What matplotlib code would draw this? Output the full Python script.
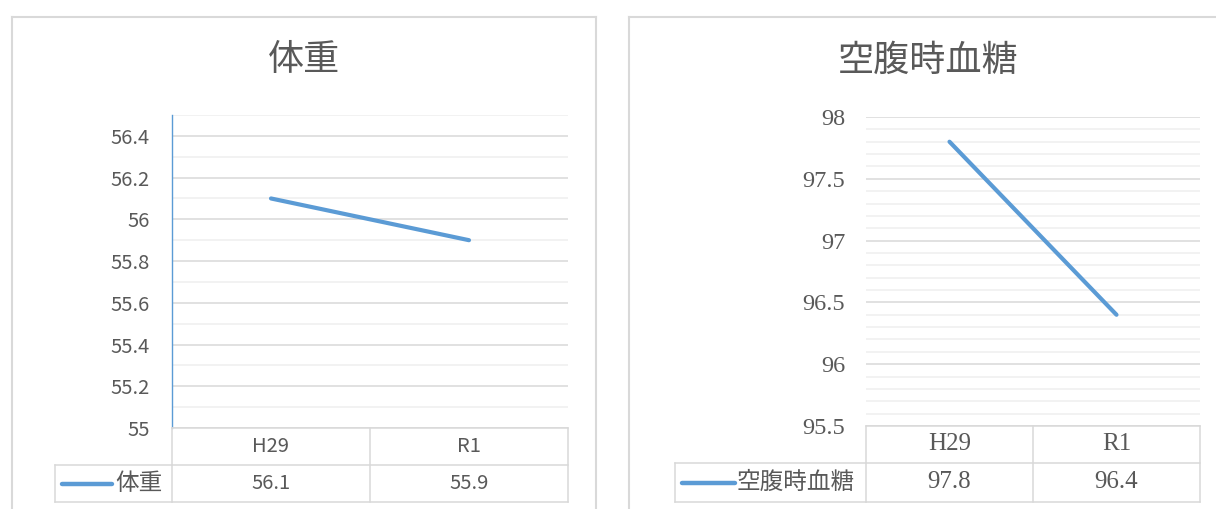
import matplotlib.pyplot as plt
import matplotlib.transforms as mtransforms
from matplotlib.lines import Line2D
import numpy as np

# data
periods = ["H29", "R1"]
weight = [56.1, 55.9]
glucose = [97.8, 96.4]
titles = ["体重", "空腹時血糖"]

W, H = 1216, 509
BLUE = "#5B9BD5"
TXT = "#595959"
GRID = "#D9D9D9"
MINOR = "#EFEFEF"
SANS = ["Noto Sans CJK JP", "DejaVu Sans"]
SERIF = ["Liberation Serif", "Noto Sans CJK JP"]

fig = plt.figure(figsize=(W / 100, H / 100), dpi=100)


def fx(x):
    return x / W


def fy(y):
    return 1 - y / H


def fline(x0, y0, x1, y1, tr=None, **kw):
    tr = tr or fig.transFigure
    if tr is fig.transFigure:
        xs, ys = [fx(x0), fx(x1)], [fy(y0), fy(y1)]
    else:
        xs, ys = [x0, x1], [fy(y0), fy(y1)]
    fig.add_artist(Line2D(xs, ys, transform=tr, **kw))


def chart(title, values, frame, title_xy, box, ylim, major, minor, rows,
          leg, family, fs_tick, fs_tab, fs_leg, axis_line, pad):
    fl, ft, fr = frame
    # outer chart border
    fline(fl, 510, fl, ft, color=GRID, lw=1.5)
    fline(fl, ft, fr, ft, color=GRID, lw=1.5)
    fline(fr, ft, fr, 510, color=GRID, lw=1.5)

    fig.text(fx(title_xy[0]), fy(title_xy[1]), title, ha="center", va="center",
             fontsize=26, color=TXT, family=family)

    x0, y0, x1, y1 = box
    ax = fig.add_axes([fx(x0), fy(y1), fx(x1 - x0), (y1 - y0) / H])
    ax.plot(range(len(periods)), values, color=BLUE, lw=3,
            solid_capstyle="round", zorder=3)
    ax.set_xlim(-0.5, len(periods) - 0.5)
    ax.set_ylim(*ylim)
    ax.set_yticks(major)
    ax.set_yticks(minor, minor=True)
    ax.set_yticklabels([f"{v:g}" for v in major], family=family,
                       fontsize=fs_tick, color=TXT)
    ax.set_xticks([])
    ax.tick_params(axis="y", which="both", length=0, pad=pad)
    ax.grid(axis="y", which="major", color=GRID, lw=1.1)
    ax.grid(axis="y", which="minor", color=MINOR, lw=1.1)
    for s in ax.spines.values():
        s.set_visible(False)
    if axis_line:
        ax.spines["left"].set_visible(True)
        ax.spines["left"].set_color(BLUE)
        ax.spines["left"].set_linewidth(1)

    # data table below the plot
    r0, r1, r2 = rows
    tr = mtransforms.blended_transform_factory(ax.transData, fig.transFigure)
    lo, hi = -0.5, len(periods) - 0.5
    fline(lo, r0, hi, r0, tr=tr, color=GRID, lw=1.1)
    fline(lo, r1, hi, r1, tr=tr, color=GRID, lw=1.1)
    fline(lo, r2, hi, r2, tr=tr, color=GRID, lw=1.1)
    fline(leg[0], r1, x0, r1, color=GRID, lw=1.1)
    fline(leg[0], r2, x0, r2, color=GRID, lw=1.1)
    fline(leg[0], r1, leg[0], r2, color=GRID, lw=1.1)
    for b in np.arange(lo, hi + 1):
        fline(b, r0, b, r2, tr=tr, color=GRID, lw=1.1)
    for i, (p, v) in enumerate(zip(periods, values)):
        fig.text(i, fy((r0 + r1) / 2), p, transform=tr, ha="center",
                 va="center", fontsize=fs_tab, color=TXT, family=family)
        fig.text(i, fy((r1 + r2) / 2), f"{v:g}", transform=tr, ha="center",
                 va="center", fontsize=fs_tab, color=TXT, family=family)
    # legend key inside the table
    fline(leg[1], (r1 + r2) / 2, leg[2], (r1 + r2) / 2, color=BLUE, lw=3.2,
          solid_capstyle="round")
    fig.text(fx(leg[3]), fy((r1 + r2) / 2), title, ha="left", va="center",
             fontsize=fs_leg, color=TXT, family=SANS)
    return ax


chart(titles[0], weight, (12, 17, 596), (304, 60), (172, 115, 568, 428),
      (55, 56.5), np.arange(55, 56.41, 0.2), np.arange(55, 56.51, 0.1),
      (428, 465, 502), (55, 62, 112, 115), SANS, 14.5, 14.5, 17, True, 16)

chart(titles[1], glucose, (629, 17, 1240), (928, 62), (866, 117, 1200, 426),
      (95.5, 98), np.arange(95.5, 98.01, 0.5), np.arange(95.5, 98.01, 0.1),
      (426, 463, 502), (675, 682, 735, 737), SERIF, 17.5, 18, 17, False, 15)

fig.savefig("out.png", dpi=100)
